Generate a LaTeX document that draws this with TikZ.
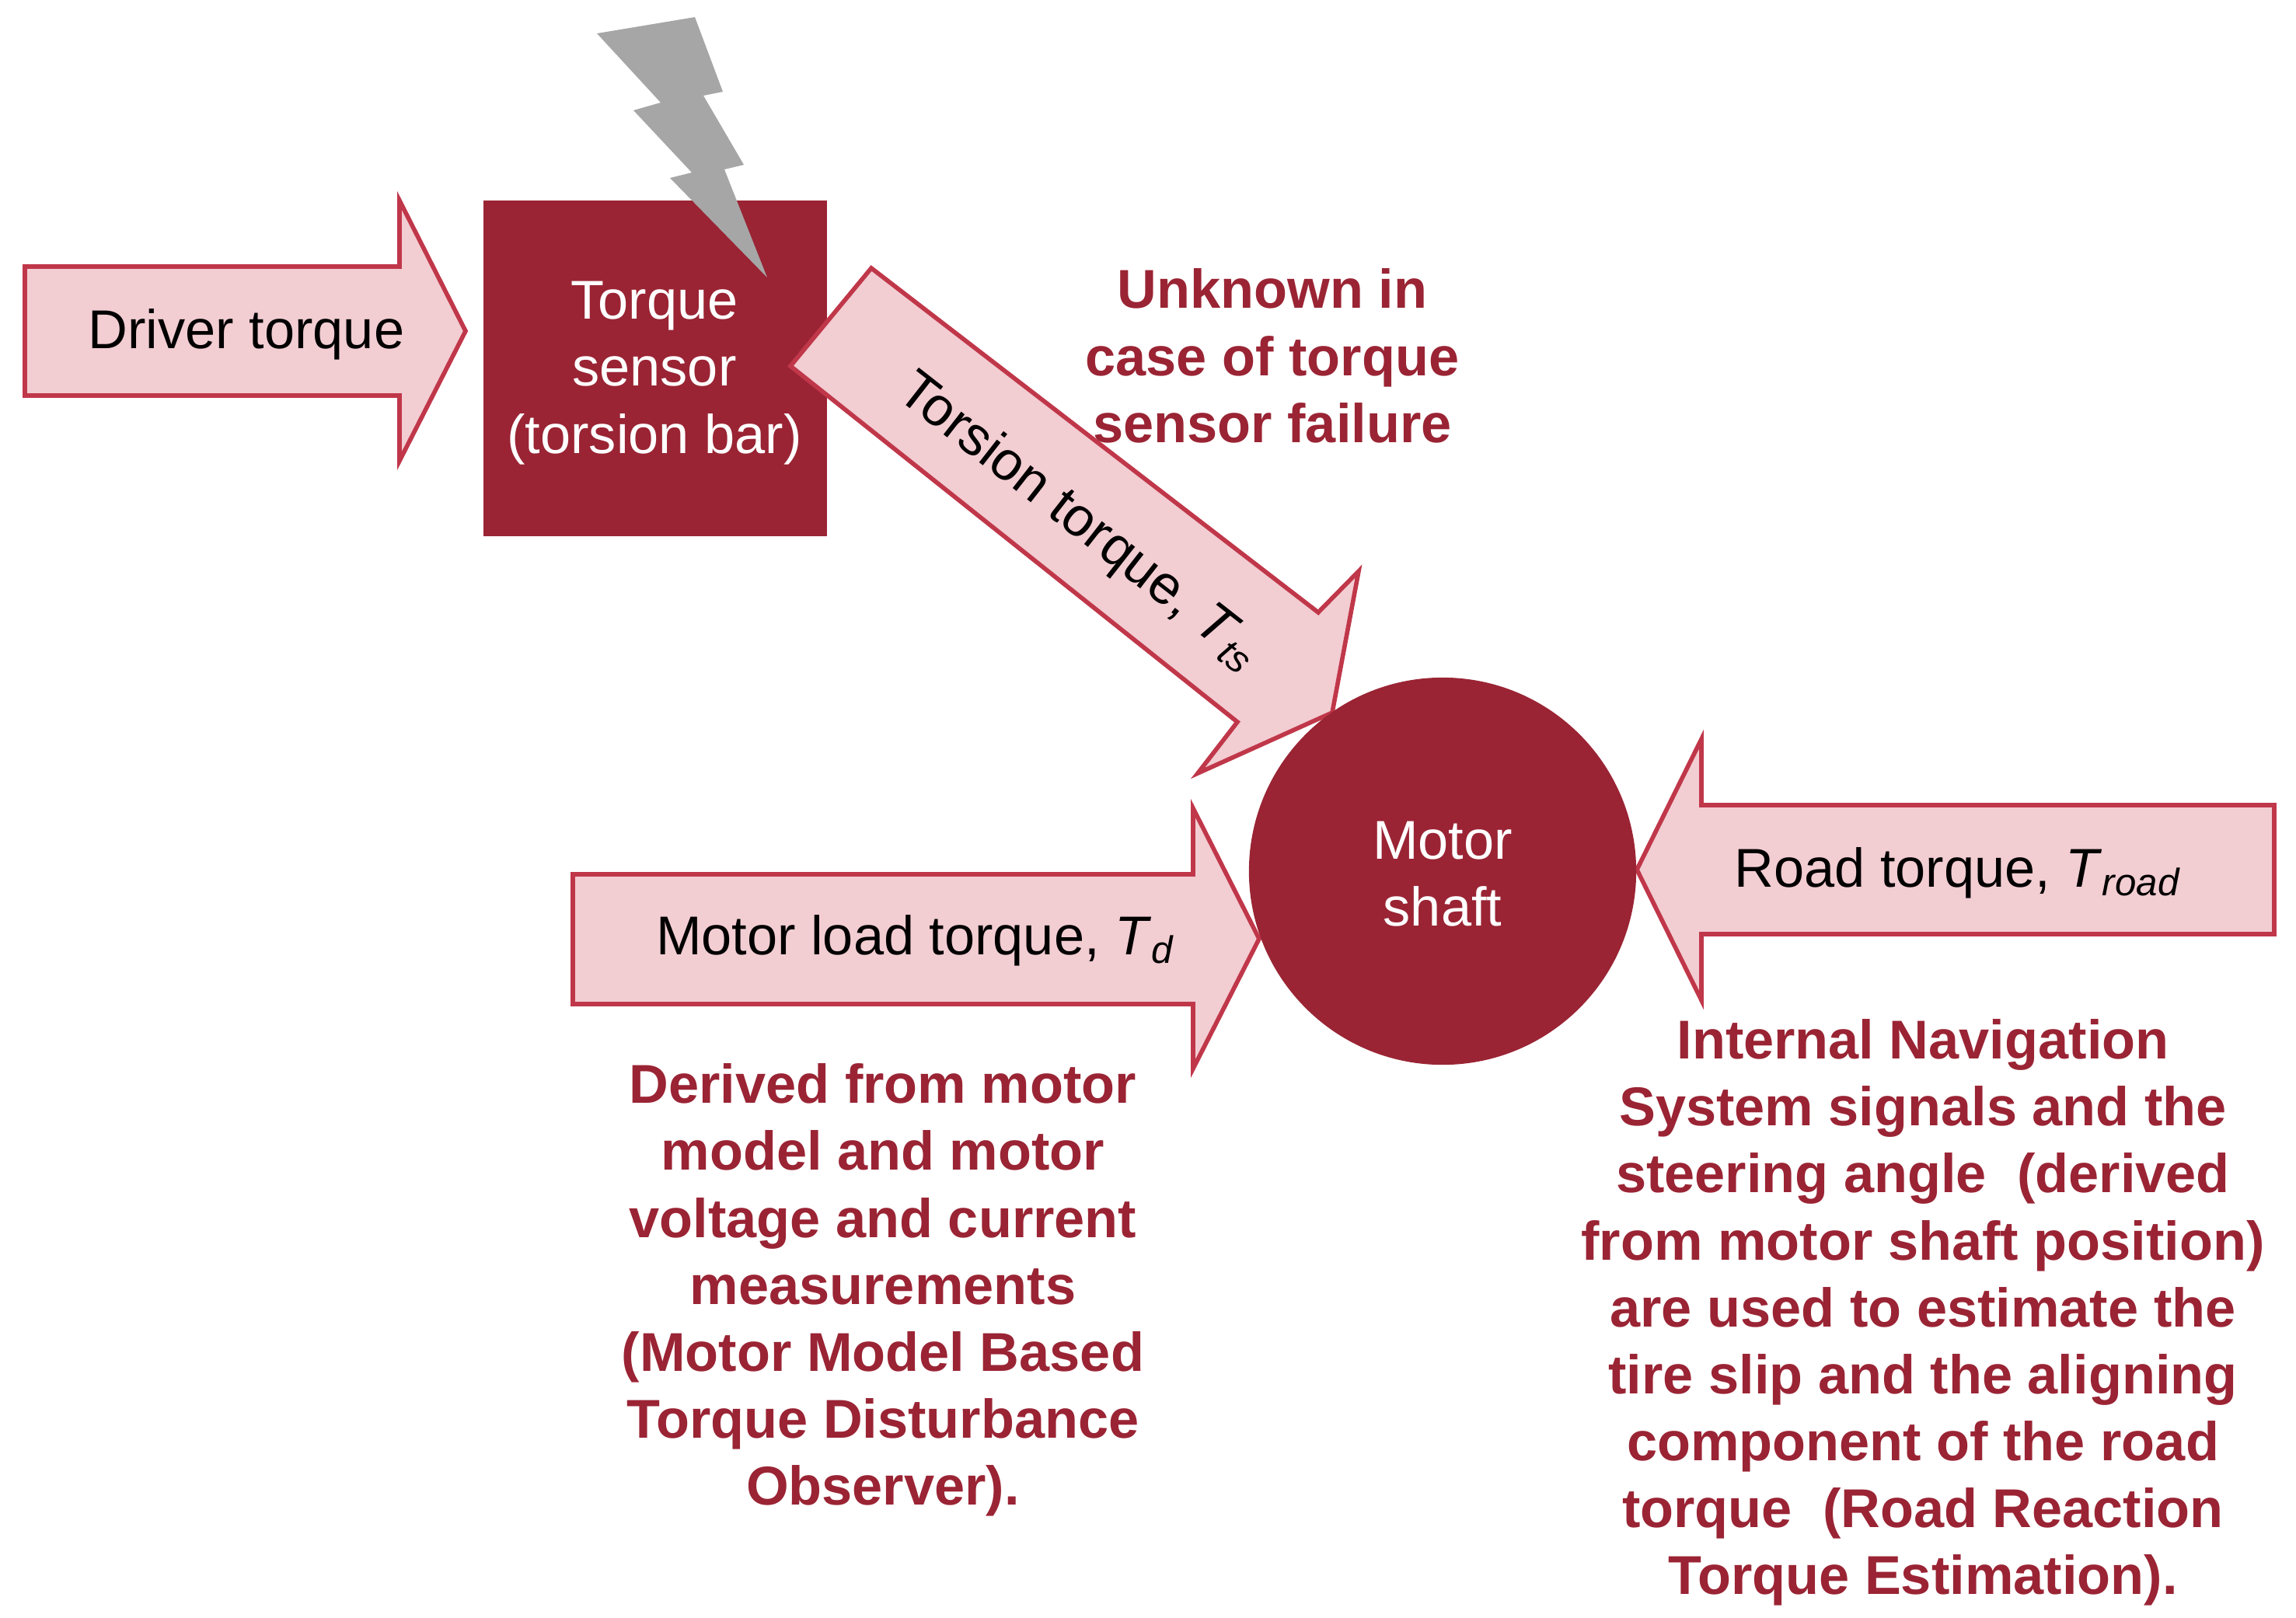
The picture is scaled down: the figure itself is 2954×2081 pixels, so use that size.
\documentclass[tikz,border=0pt]{standalone}
\usepackage{fontspec}
\setmainfont{Liberation Sans}
\definecolor{dred}{HTML}{9A2434}
\definecolor{pinkf}{HTML}{F2CDD2}
\definecolor{pinkb}{HTML}{C0374A}
\begin{document}
\begin{tikzpicture}[x=0.01cm,y=-0.01cm,
  arr/.style={fill=pinkf,draw=pinkb,line width=1.6pt,line join=miter},
  txt/.style={font=\fontsize{20}{24.5}\selectfont,align=center,inner sep=0},
  note/.style={txt,font=\fontsize{20}{24.5}\selectfont\bfseries,text=dred}]
\useasboundingbox (0,0) rectangle (2954,2081);
\draw[arr] (32,343)--(514,343)--(514,258)--(599,426)--(514,593)--(514,509)--(32,509)--cycle;
\fill[dred] (622,258) rectangle (1064,690);
\draw[arr] (1121,345)--(1696,788)--(1748,735)--(1714,917)--(1541,995)--(1592,929)--(1017,471)--cycle;
\draw[arr] (737,1125)--(1535,1125)--(1535,1040)--(1620,1208)--(1535,1375)--(1535,1292)--(737,1292)--cycle;
\draw[arr] (2926,1036)--(2189,1036)--(2189,951)--(2106,1119)--(2189,1287)--(2189,1202)--(2926,1202)--cycle;
\fill[gray!70] (768,43)--(894,22)--(930,118)--(905,123)--(957,212)--(932,218)--(987,357)--(862,229)--(890,222)--(815,142)--(850,132)--cycle;
\node[circle,fill=dred,minimum size=4.98cm,inner sep=0] (ms) at (1856,1121) {};
\node[txt,text=white] (mst) at (1856,1125) {Motor\\shaft};
\node[txt,text=white] (ts) at (842,480) {Torque\\sensor\\(torsion bar)};
\node[txt] (dt) at (317,430) {Driver torque};
\node[txt,rotate=-38] (tt) at (1388,672) {Torsion torque, \textit{T}\textsubscript{\textit{ts}}};
\node[txt] (ml) at (1178,1210) {Motor load torque, \textit{T}\textsubscript{\textit{d}}};
\node[txt] (rt) at (2519,1123) {Road torque, \textit{T}\textsubscript{\textit{road}}};
\node[note] (un) at (1637,458) {Unknown in\\case of torque\\sensor failure};
\node[note] (de) at (1136,1660) {Derived from motor\\model and motor\\voltage and current\\measurements\\(Motor Model Based\\Torque Disturbance\\Observer).};
\node[note] (in) at (2474,1689) {Internal Navigation\\System signals and the\\steering angle\ \ (derived\\from motor shaft position)\\are used to estimate the\\tire slip and the aligning\\component of the road\\torque\ \ (Road Reaction\\Torque Estimation).};
\end{tikzpicture}
\end{document}
